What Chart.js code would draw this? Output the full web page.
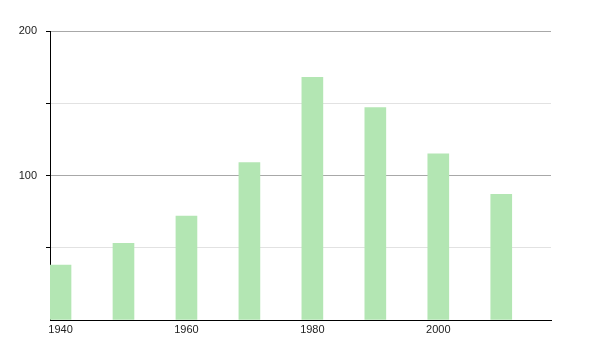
<!DOCTYPE html>
<html>
<head>
<meta charset="utf-8">
<script src="https://cdn.jsdelivr.net/npm/chart.js@4"></script>
<style>
  html, body { margin: 0; padding: 0; background: #fff; }
  #wrap { width: 600px; height: 350px; }
</style>
</head>
<body>
<div id="wrap"><canvas id="chart"></canvas></div>
<script>
// Years and values
const years = [1940, 1950, 1960, 1970, 1980, 1990, 2000, 2010];
const values = [38, 53, 72, 109, 168, 147, 115, 87];
const xTicks = [1940, 1960, 1980, 2000];
const yTicks = [0, 50, 100, 150, 200];
const yLabelled = [100, 200];

const ctx = document.getElementById("chart");

new Chart(ctx, {
    type: "bar",
    data: {
        datasets: [
            {
                data: years.map((y, i) => ({ x: y, y: values[i] })),
                backgroundColor: "#b3e6b3",
                borderWidth: 0,
                barThickness: 21,
            },
        ],
    },
    options: {
        responsive: true,
        maintainAspectRatio: false,
        animation: false,
        layout: { padding: { top: 31, right: 49, left: 0, bottom: 0 } },
        plugins: {
            legend: { display: false },
            tooltip: { enabled: false },
        },
        scales: {
            x: {
                type: "linear",
                offset: false,
                min: 1938.33,
                max: 2017.9,
                afterBuildTicks: (scale) => {
                    scale.ticks = xTicks.map((v) => ({ value: v }));
                },
                afterFit: (scale) => { scale.height = 30; },
                grid: { display: false, drawTicks: false, offset: false },
                border: { display: true, color: "#000", width: 1 },
                ticks: {
                    padding: 3,
                    color: "#222",
                    font: { family: "Liberation Sans, Arial, sans-serif", size: 11 },
                    callback: (v) => String(v),
                },
            },
            y: {
                min: 0,
                max: 200,
                afterBuildTicks: (scale) => {
                    scale.ticks = yTicks.map((v) => ({ value: v }));
                },
                afterFit: (scale) => { scale.width = 50; },
                grid: {
                    color: (c) => {
                        const v = c.tick ? c.tick.value : 0;
                        if (v === 0) return "rgba(0,0,0,0)";
                        return v % 100 === 0 ? "#a8a8a8" : "#e2e2e2";
                    },
                    tickColor: (c) => (c.tick && c.tick.value === 0 ? "rgba(0,0,0,0)" : "#000"),
                    tickLength: 4,
                },
                border: { display: true, color: "#000", width: 1 },
                ticks: {
                    padding: 9,
                    color: "#222",
                    font: { family: "Liberation Sans, Arial, sans-serif", size: 11 },
                    callback: (v) => (yLabelled.includes(v) ? String(v) : ""),
                },
            },
        },
    },
});
</script>
</body>
</html>
